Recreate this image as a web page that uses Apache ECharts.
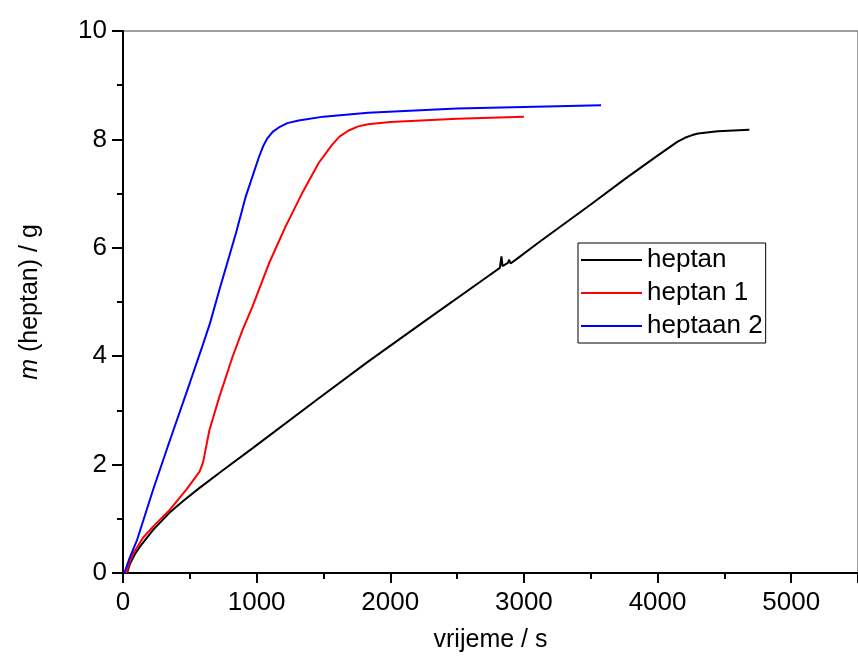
<!DOCTYPE html>
<html>
<head>
<meta charset="utf-8">
<script src="https://cdn.jsdelivr.net/npm/echarts@6/dist/echarts.min.js"></script>
<style>
  html, body { margin: 0; padding: 0; background: #fff; }
  #chart { width: 858px; height: 664px; }
</style>
</head>
<body>
<div id="chart"></div>
<script>
// vrijeme (s) / masa (g) za svaku seriju, očitano sa slike
const heptanX = [30, 54, 90, 128, 227, 351, 450, 573, 750, 968, 1463, 1834, 2300, 2700, 2820, 2832, 2840, 2880, 2890, 2900, 2950, 3100, 3500, 3762, 4000, 4150, 4205, 4260, 4304, 4450, 4687]
const heptanY = [0, 0.18, 0.35, 0.49, 0.8, 1.12, 1.33, 1.57, 1.9, 2.3, 3.22, 3.9, 4.72, 5.42, 5.63, 5.84, 5.66, 5.72, 5.78, 5.71, 5.8, 6.08, 6.8, 7.28, 7.7, 7.96, 8.03, 8.08, 8.11, 8.15, 8.18]

const heptan1X = [25, 50, 79, 150, 227, 351, 474, 573, 600, 647, 721, 820, 894, 968, 1092, 1216, 1339, 1463, 1561, 1620, 1685, 1760, 1834, 2000, 2500, 3000]
const heptan1Y = [0, 0.2, 0.37, 0.65, 0.86, 1.17, 1.54, 1.87, 2.05, 2.64, 3.25, 3.99, 4.48, 4.91, 5.71, 6.39, 7.0, 7.56, 7.89, 8.05, 8.16, 8.24, 8.28, 8.32, 8.38, 8.42]

const heptaan2X = [10, 50, 104, 227, 351, 499, 585, 650, 721, 845, 919, 1018, 1050, 1080, 1120, 1166, 1230, 1314, 1500, 1834, 2500, 3000, 3577]
const heptaan2Y = [0, 0.28, 0.6, 1.55, 2.45, 3.5, 4.12, 4.6, 5.22, 6.27, 6.95, 7.68, 7.88, 8.02, 8.14, 8.22, 8.3, 8.35, 8.42, 8.49, 8.57, 8.6, 8.63]

const seriesNames = ['heptan', 'heptan 1', 'heptaan 2']
const seriesColors = ['#000000', '#ff0000', '#0000ff']

const xTicks = { min: 0, max: 5500, interval: 1000 }
const yTicks = { min: 0, max: 10, interval: 2 }

const zip = (xs, ys) => xs.map((x, i) => [x, ys[i]])
const curves = [zip(heptanX, heptanY), zip(heptan1X, heptan1Y), zip(heptaan2X, heptaan2Y)]

const font = 'Liberation Sans, Arial, sans-serif'
const chart = echarts.init(document.getElementById('chart'))

chart.setOption({
  animation: false,
  backgroundColor: '#fff',
  grid: {
    left: 123, top: 31, bottom: 91, right: -7,
    show: true, borderColor: '#808080', borderWidth: 1.5,
  },
  legend: {
    orient: 'vertical',
    left: 578, top: 243,
    padding: [4, 3, 4, 3],
    icon: 'rect',
    itemWidth: 61, itemHeight: 2, itemGap: 7,
    borderColor: '#000', borderWidth: 1,
    textStyle: { fontFamily: font, fontSize: 26, color: '#000', lineHeight: 26 },
    data: seriesNames,
  },
  xAxis: {
    type: 'value',
    ...xTicks,
    name: 'vrijeme / s',
    nameLocation: 'middle',
    nameGap: 55,
    nameTextStyle: { fontFamily: font, fontSize: 25, color: '#000' },
    axisLine: { lineStyle: { color: '#000', width: 2 } },
    axisTick: { length: 10, lineStyle: { color: '#000', width: 2 } },
    minorTick: { show: true, splitNumber: 2, length: 6, lineStyle: { color: '#000', width: 2 } },
    axisLabel: {
      fontFamily: font, fontSize: 26, color: '#000', margin: 17, showMaxLabel: false,
      formatter: v => String(v),
    },
    splitLine: { show: false },
  },
  yAxis: {
    type: 'value',
    ...yTicks,
    name: '{i|m} (heptan) / g',
    nameLocation: 'middle',
    nameGap: 80,
    nameTextStyle: {
      fontFamily: font, fontSize: 25, color: '#000',
      rich: { i: { fontFamily: font, fontSize: 25, fontStyle: 'italic', color: '#000' } },
    },
    axisLine: { lineStyle: { color: '#000', width: 2 } },
    axisTick: { length: 11, lineStyle: { color: '#000', width: 2 } },
    minorTick: { show: true, splitNumber: 2, length: 6, lineStyle: { color: '#000', width: 2 } },
    axisLabel: { fontFamily: font, fontSize: 26, color: '#000', margin: 16, formatter: v => String(v) },
    splitLine: { show: false },
  },
  series: seriesNames.map((name, i) => ({
    name,
    type: 'line',
    data: curves[i],
    symbol: 'none',
    smooth: false,
    color: seriesColors[i],
    lineStyle: { color: seriesColors[i], width: 2 },
  })),
})
</script>
</body>
</html>
